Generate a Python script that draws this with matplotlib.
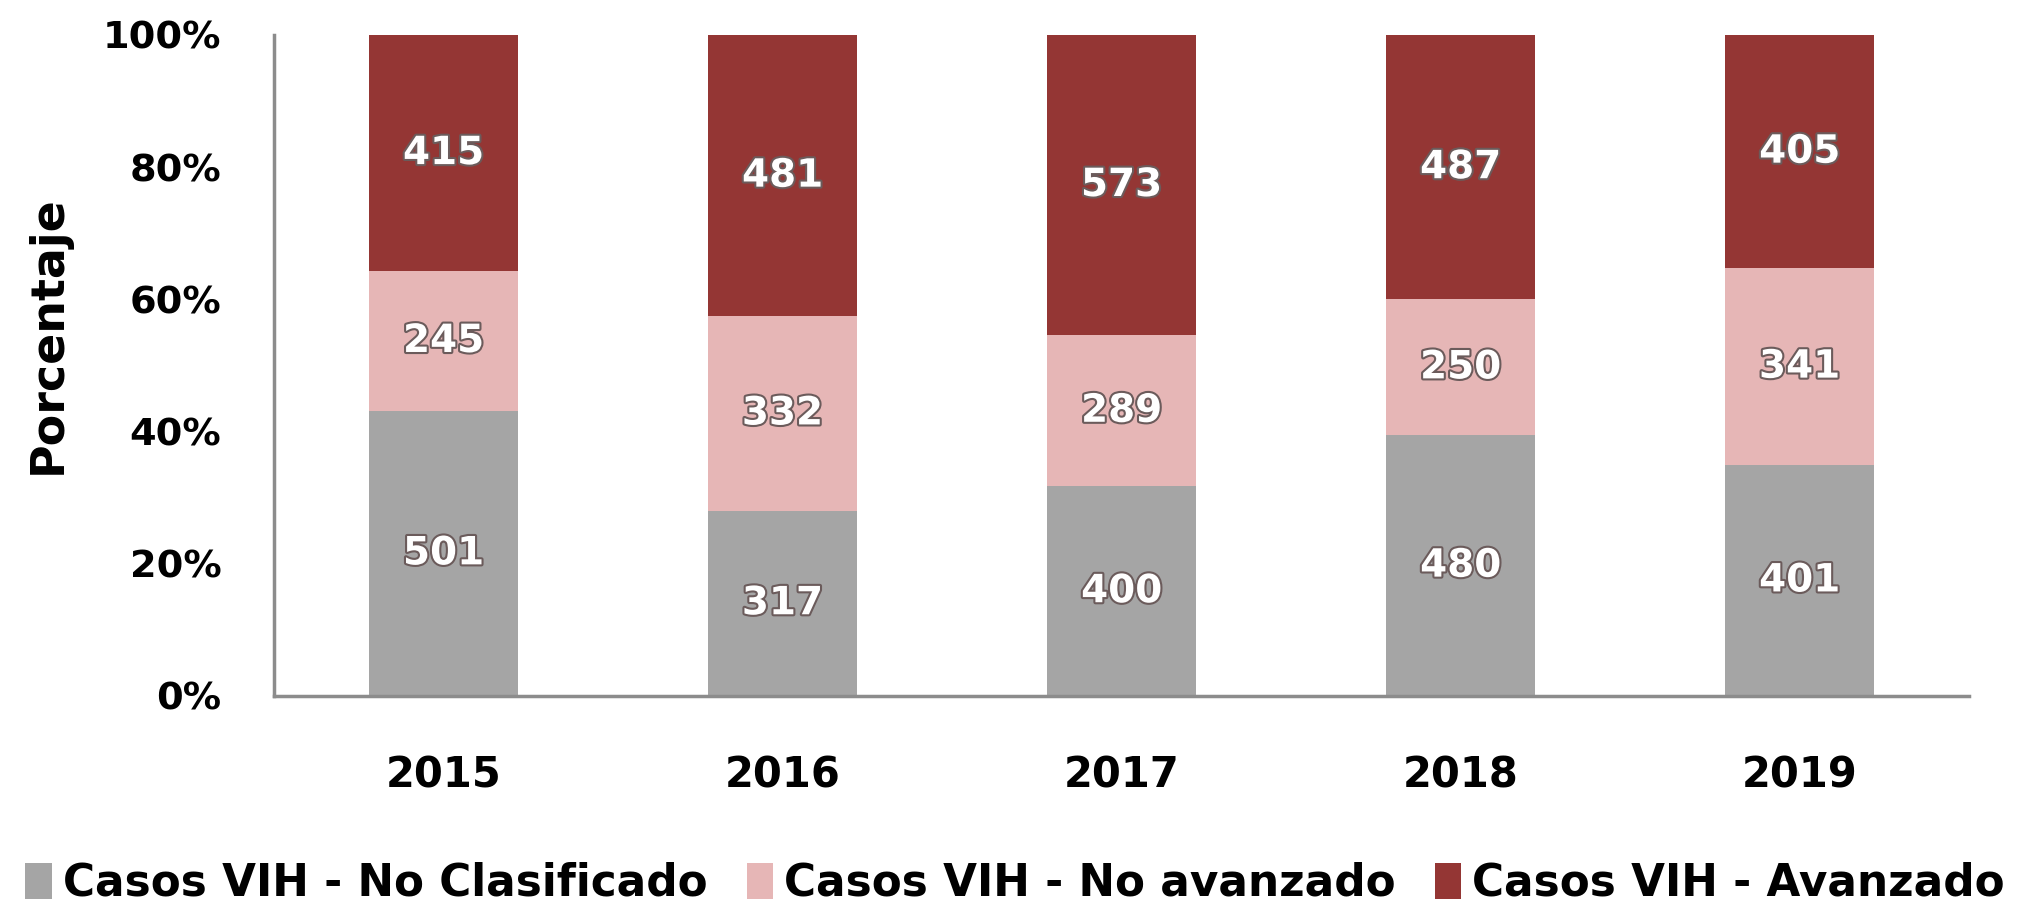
import matplotlib
matplotlib.use("Agg")
import matplotlib.pyplot as plt
import matplotlib.patheffects as pe
import numpy as np

# data
years = ["2015", "2016", "2017", "2018", "2019"]
no_clasificado = [501, 317, 400, 480, 401]
no_avanzado = [245, 332, 289, 250, 341]
avanzado = [415, 481, 573, 487, 405]
series_names = ["Casos VIH - No Clasificado", "Casos VIH - No avanzado", "Casos VIH - Avanzado"]
colors = ["#A5A5A5", "#E6B6B6", "#943634"]

plt.rcParams["font.family"] = ["DejaVu Sans"]
plt.rcParams["font.weight"] = "bold"

counts = np.array([no_clasificado, no_avanzado, avanzado], dtype=float)
pct = counts / counts.sum(axis=0) * 100

fig = plt.figure(figsize=(20.18, 9.08), dpi=100)
ax = fig.add_axes([0.1358, 0.2335, 0.84, 0.728])

x = np.arange(len(years))
bottom = np.zeros(len(years))
shadow = [pe.withStroke(linewidth=3, foreground="#6b5b5b")]
for i in range(3):
    ax.bar(x, pct[i], bottom=bottom, width=0.44, color=colors[i], label=series_names[i])
    for j in range(len(years)):
        ax.text(x[j], bottom[j] + pct[i][j] / 2, str(int(counts[i][j])), ha="center", va="center",
                color="white", fontsize=28, fontweight="bold", path_effects=shadow)
    bottom += pct[i]

ax.set_xlim(-0.5, len(years) - 0.5)
ax.set_ylim(0, 100)
ax.set_yticks([0, 20, 40, 60, 80, 100])
ax.set_yticklabels(["0%", "20%", "40%", "60%", "80%", "100%"])
ax.set_xticks(x)
ax.set_xticklabels(years)
ax.tick_params(axis="y", length=0, labelsize=27.5, pad=38)
ax.tick_params(axis="x", length=0, labelsize=30, pad=42)
for s in ["top", "right"]:
    ax.spines[s].set_visible(False)
for s in ["left", "bottom"]:
    ax.spines[s].set_color("#8c8c8c")
    ax.spines[s].set_linewidth(2.5)

fig.text(0.024, 1 - 335 / 908, "Porcentaje", rotation=90, ha="center", va="center",
         fontsize=33, fontweight="bold")

fig.legend(loc="center", bbox_to_anchor=(0.503, 0.027), ncol=3, frameon=False, fontsize=31.5,
           handlelength=0.6, handleheight=0.9, handletextpad=0.25, columnspacing=0.9, borderpad=0)

fig.savefig("out.png", dpi=100)
